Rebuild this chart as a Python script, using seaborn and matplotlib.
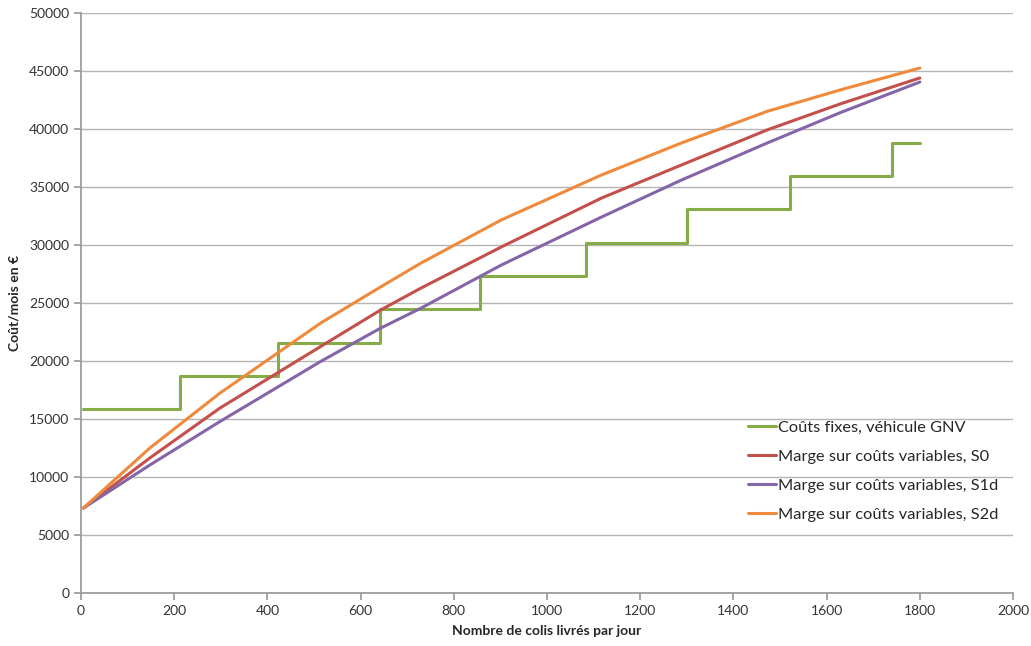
import pandas as pd
import seaborn as sns
import matplotlib.pyplot as plt

# values
step_x = [5, 212, 423, 641, 856, 1084, 1300, 1521, 1740, 1800]
step_y = [15800, 18650, 21550, 24450, 27300, 30150, 33100, 35900, 38800, 38800]

curve_x = [5, 148, 298, 514, 642, 729, 901, 1116, 1288, 1473, 1631, 1800]
marge_s0 = [7300, 11630, 15920, 21230, 24360, 26260, 29800, 34020, 36880, 39920, 42180, 44390]
marge_s1d = [7300, 11020, 14760, 19940, 22800, 24530, 28240, 32380, 35580, 38790, 41430, 44040]
marge_s2d = [7300, 12490, 17210, 23250, 26350, 28420, 32130, 36010, 38780, 41520, 43380, 45250]

labels = ["Coûts fixes, véhicule GNV",
          "Marge sur coûts variables, S0",
          "Marge sur coûts variables, S1d",
          "Marge sur coûts variables, S2d"]
colors = ["#86AC47", "#C4504C", "#8466A8", "#EF8A3C"]

sns.set_theme(style="white")
plt.rcParams['font.family'] = ['Lato', 'DejaVu Sans']

fig = plt.figure(figsize=(10.31, 6.46), dpi=100)
ax = fig.add_axes([0.0786, 0.0825, 0.904, 0.8975])

df_step = pd.DataFrame({'x': step_x, 'y': step_y})
sns.lineplot(data=df_step, x='x', y='y', ax=ax, color=colors[0], lw=2.2,
             drawstyle='steps-post', label=labels[0])

for vals, lab, col in zip([marge_s0, marge_s1d, marge_s2d], labels[1:], colors[1:]):
    d = pd.DataFrame({'x': curve_x, 'y': vals})
    sns.lineplot(data=d, x='x', y='y', ax=ax, color=col, lw=2.2, label=lab)

ax.set_xlim(0, 2000)
ax.set_ylim(0, 50000)
ax.set_xticks(range(0, 2001, 200))
ax.set_yticks(range(0, 50001, 5000))
ax.yaxis.grid(True, color="#b5b5b5", lw=1)
ax.xaxis.grid(False)
for s in ['top', 'right']:
    ax.spines[s].set_visible(False)
for s in ['left', 'bottom']:
    ax.spines[s].set_color("#9a9a9a")
ax.tick_params(axis='both', direction='out', length=5, color="#9a9a9a",
               labelsize=10, labelcolor="#333333", bottom=True, left=True)
ax.set_xlabel("Nombre de colis livrés par jour", fontsize=10, fontweight='bold', labelpad=6)
ax.set_ylabel("Coût/mois en €", fontsize=10, fontweight='bold', labelpad=6)

ax.legend(loc='upper left', bbox_to_anchor=(0.7155, 0.297), frameon=False,
          fontsize=11.8, handlelength=1.7, handletextpad=0.15, labelspacing=0.88,
          borderaxespad=0, borderpad=0)

fig.savefig("out.png", dpi=100)
